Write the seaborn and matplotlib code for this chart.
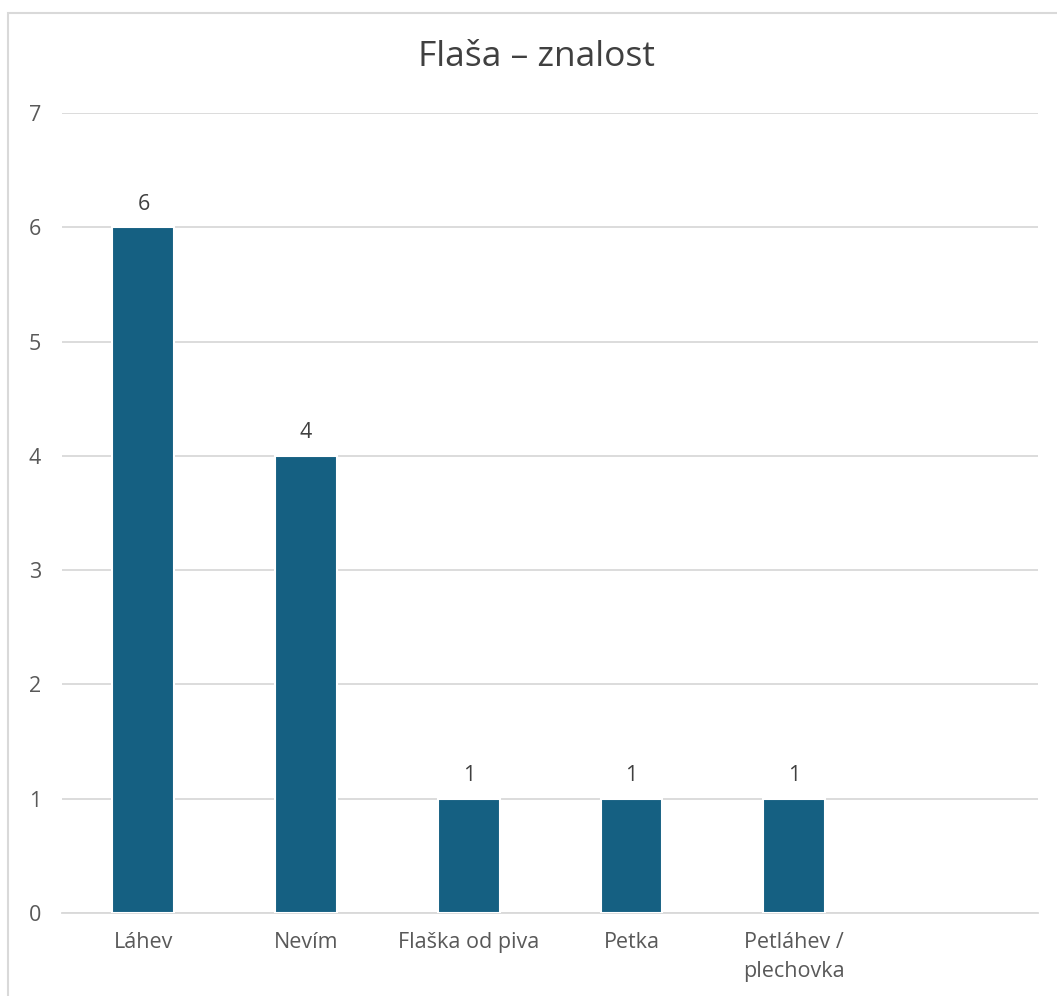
import seaborn as sns
import matplotlib.pyplot as plt
import pandas as pd
from matplotlib.patches import Rectangle

# data
categories = ['Láhev', 'Nevím', 'Flaška od piva', 'Petka', 'Petláhev /\nplechovka']
counts = [6, 4, 1, 1, 1]
y_ticks = [0, 1, 2, 3, 4, 5, 6, 7]

df = pd.DataFrame({'kategorie': categories, 'pocet': counts})

sns.set_theme(style='white')
plt.rcParams['font.family'] = ['Open Sans', 'DejaVu Sans']

bar_color = '#156082'
text_color = '#595959'
label_color = '#404040'
grid_color = '#d9d9d9'

fig = plt.figure(figsize=(10.57, 9.96), dpi=100)
ax = fig.add_axes([0.0587, 0.0833, 0.9235, 0.8033])

sns.barplot(data=df, x='kategorie', y='pocet', order=categories,
            color=bar_color, width=0.38, edgecolor='white', linewidth=1.5,
            saturation=1, ax=ax, zorder=3)

ax.set_xlim(-0.5, 5.5)
ax.set_ylim(0, 7)
ax.set_yticks(y_ticks)
ax.yaxis.grid(True, color=grid_color, linewidth=1.3, zorder=0)
ax.set_axisbelow(True)

for s in ['top', 'right', 'left']:
    ax.spines[s].set_visible(False)
ax.spines['bottom'].set_color(grid_color)
ax.spines['bottom'].set_linewidth(1.3)

# ticks sit between categories, labels in the middle
ax.set_xticks([i - 0.5 for i in range(7)], minor=True)
ax.tick_params(axis='x', which='minor', length=6, color=grid_color, width=1.3)
ax.tick_params(axis='x', which='major', length=0, pad=14, labelsize=15.5, labelcolor=text_color)
ax.tick_params(axis='y', length=0, pad=15, labelsize=15.5, labelcolor=text_color)
for lbl in ax.get_xticklabels():
    lbl.set_linespacing(1.5)
    lbl.set_multialignment('center')

ax.set_xlabel('')
ax.set_ylabel('')

for c in ax.containers:
    ax.bar_label(c, padding=9, fontsize=15.5, color=label_color)

fig.text(0.508, 0.943, 'Flaša – znalost', ha='center', va='center',
         fontsize=25.5, color=label_color)

# light outline of the chart area, cut off at the right and bottom
fig.add_artist(Rectangle((8 / 1057, -0.05), 1.1, (996 - 13) / 996 + 0.05,
                         transform=fig.transFigure, fill=False,
                         edgecolor=grid_color, linewidth=1.5))

fig.savefig('out.png', dpi=100)
